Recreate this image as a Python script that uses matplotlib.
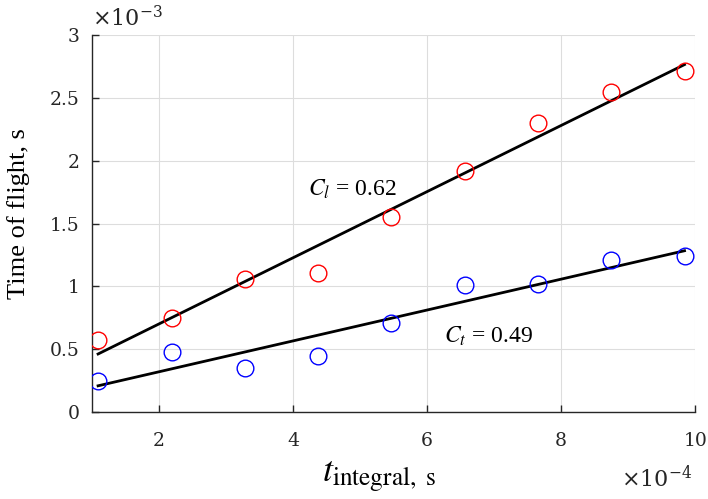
import matplotlib.pyplot as plt
import numpy as np

plt.rcParams['font.family'] = ['Liberation Serif', 'DejaVu Serif']
plt.rcParams['mathtext.fontset'] = 'stix'

# x in units of 1e-4 s, y in units of 1e-3 s
t_integral = [1.09, 2.19, 3.28, 4.37, 5.46, 6.56, 7.65, 8.74, 9.84]
tof_l = [0.57, 0.75, 1.06, 1.11, 1.55, 1.92, 2.30, 2.55, 2.71]
tof_t = [0.25, 0.48, 0.35, 0.45, 0.71, 1.01, 1.02, 1.21, 1.24]
x_ticks = [2, 4, 6, 8, 10]
y_ticks = [0, 0.5, 1, 1.5, 2, 2.5, 3]

fig = plt.figure(figsize=(7.08, 4.99), dpi=100)
ax = fig.add_axes([0.130, 0.174, 0.852, 0.756])

x = np.array(t_integral)
for y, col in [(tof_l, 'red'), (tof_t, 'blue')]:
    ax.plot(x, y, 'o', mfc='none', mec=col, ms=12, mew=1.0, zorder=3)
    p = np.polyfit(x, y, 1)
    ax.plot(x[[0, -1]], np.polyval(p, x[[0, -1]]), color='black', lw=2, zorder=2)

ax.set_xlim(1.0, 10)
ax.set_ylim(0, 3)
ax.set_xticks(x_ticks)
ax.set_yticks(y_ticks)
tick_font = dict(family='DejaVu Serif', size=13.5)
ax.set_xticklabels([str(v) for v in x_ticks], **tick_font)
ax.set_yticklabels(['0', '0.5', '1', '1.5', '2', '2.5', '3'], **tick_font)
ax.grid(True, color='#dddddd', lw=0.8)
ax.set_axisbelow(True)
for s in ['top', 'right']:
    ax.spines[s].set_visible(False)
for s in ['left', 'bottom']:
    ax.spines[s].set_color('#262626')
    ax.spines[s].set_linewidth(1.0)
ax.tick_params(direction='in', length=5, width=1, colors='#262626')
ax.tick_params(axis='x', pad=14)
ax.tick_params(axis='y', pad=9)

ax.text(0.0, 1.01, r'$\times10^{-3}$', transform=ax.transAxes, fontsize=16, color='#262626',
        va='bottom', ha='left', math_fontfamily='dejavuserif')
ax.text(0.995, -0.175, r'$\times10^{-4}$', transform=ax.transAxes, fontsize=16, color='#262626',
        va='center', ha='right', math_fontfamily='dejavuserif')

ax.set_ylabel('Time of flight, s', fontsize=19)
ax.yaxis.set_label_coords(-0.103, 0.527)
ax.set_xlabel(r'$t_{\mathrm{integral,\ s}}$', fontsize=26)
ax.xaxis.set_label_coords(0.476, -0.125)

ax.text(4.22, 1.77, r'$C_l$ = 0.62', fontsize=17, va='center', ha='left')
ax.text(6.25, 0.60, r'$C_t$ = 0.49', fontsize=17, va='center', ha='left')

plt.savefig('out.png')
